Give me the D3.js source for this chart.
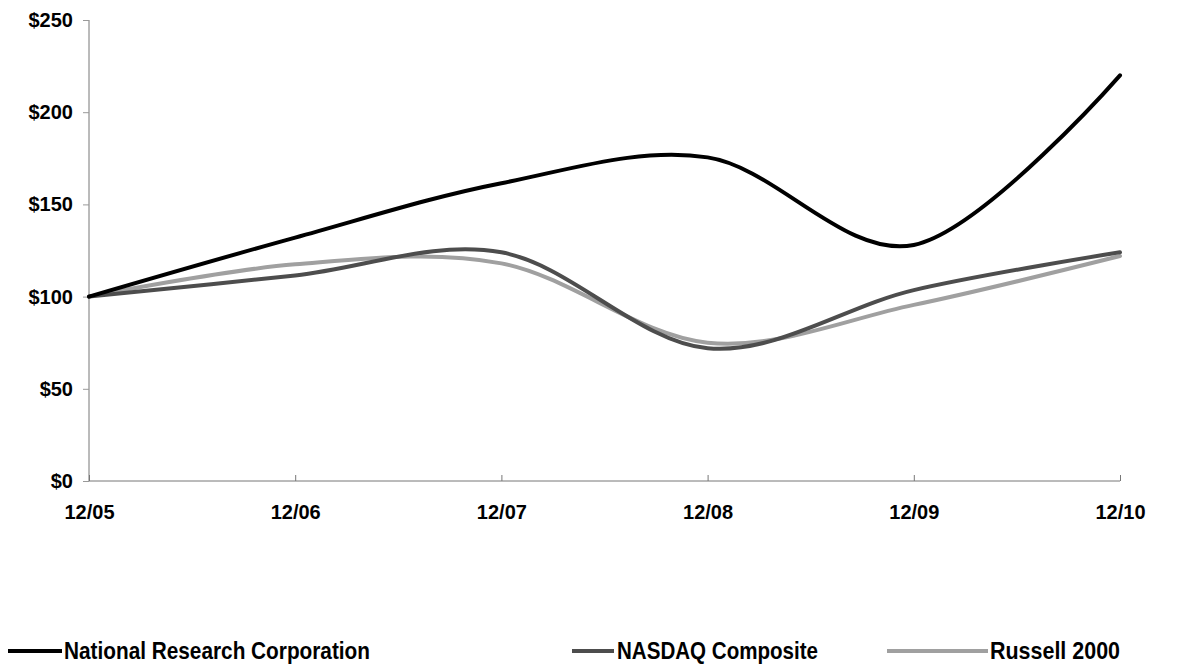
<!DOCTYPE html>
<html><head><meta charset="utf-8">
<script src="https://cdn.jsdelivr.net/npm/d3@7"></script>
<style>body{margin:0;background:#fff;}svg{display:block;font-family:Arial,"Liberation Sans",sans-serif;font-weight:bold;}</style>
</head><body>
<svg id="chart" width="1188" height="668"></svg>
<script>
const categories = ["12/05","12/06","12/07","12/08","12/09","12/10"];
const nrcValues = [100, 132, 161.5, 175.5, 128, 220];
const nasdaqValues = [100, 111.5, 124, 72, 103.5, 124];
const russellValues = [100, 117.5, 118, 75, 95.5, 122];
const yTicks = [0, 50, 100, 150, 200, 250];
const seriesNames = ["National Research Corporation","NASDAQ Composite","Russell 2000"];

const series = [
  {name: seriesNames[2], values: russellValues, color: "#a0a0a0"},
  {name: seriesNames[1], values: nasdaqValues, color: "#4d4d4d"},
  {name: seriesNames[0], values: nrcValues, color: "#000000"}
];

const svg = d3.select("#chart");
const x = d3.scalePoint().domain(categories).range([89, 1120]);
const y = d3.scaleLinear().domain([0, 250]).range([481, 20]);

// y axis
const yAxis = svg.append("g").attr("transform","translate(89,0)")
  .call(d3.axisLeft(y).tickValues(yTicks).tickSize(6).tickPadding(10).tickFormat(d => "$" + d));
yAxis.select(".domain").attr("stroke","#777").attr("d","M0,20V481");
yAxis.selectAll(".tick line").attr("stroke","#999");
yAxis.selectAll(".tick text").attr("font-size",20).attr("font-weight","bold").attr("fill","#000")
  .attr("font-family","Arial, 'Liberation Sans', sans-serif");

// x axis
const xAxis = svg.append("g").attr("transform","translate(0,481)")
  .call(d3.axisBottom(x).tickSize(0).tickPadding(0));
xAxis.select(".domain").attr("stroke","#777").attr("d","M89,0H1120");
xAxis.selectAll(".tick line").remove();
xAxis.selectAll(".tick").append("line").attr("y1",0).attr("y2",-6).attr("stroke","#777");
xAxis.selectAll(".tick text").attr("font-size",20).attr("font-weight","bold").attr("fill","#000")
  .attr("font-family","Arial, 'Liberation Sans', sans-serif").attr("dy",null).attr("y",38);

// lines
const line = d3.line().x((d,i) => x(categories[i])).y(d => y(d)).curve(d3.curveCatmullRom.alpha(0));
svg.append("g").selectAll("path").data(series).join("path")
  .attr("d", d => line(d.values))
  .attr("fill","none").attr("stroke", d => d.color).attr("stroke-width",4)
  .attr("stroke-linecap","round").attr("stroke-linejoin","round");

// legend
const legendItems = [
  {name: seriesNames[0], color: "#000000", x1: 8, x2: 62, tx: 64, tw: 306},
  {name: seriesNames[1], color: "#4d4d4d", x1: 572, x2: 614, tx: 617, tw: 201},
  {name: seriesNames[2], color: "#a0a0a0", x1: 887, x2: 988, tx: 990, tw: 130}
];
const lg = svg.append("g");
lg.selectAll("line").data(legendItems).join("line")
  .attr("x1", d => d.x1).attr("x2", d => d.x2).attr("y1", 651).attr("y2", 651)
  .attr("stroke", d => d.color).attr("stroke-width", 4);
lg.selectAll("text").data(legendItems).join("text")
  .attr("x", d => d.tx).attr("y", 659)
  .attr("textLength", d => d.tw).attr("lengthAdjust","spacingAndGlyphs")
  .attr("font-size", 24).attr("font-weight","bold").attr("fill","#000")
  .text(d => d.name);
</script>
</body></html>
